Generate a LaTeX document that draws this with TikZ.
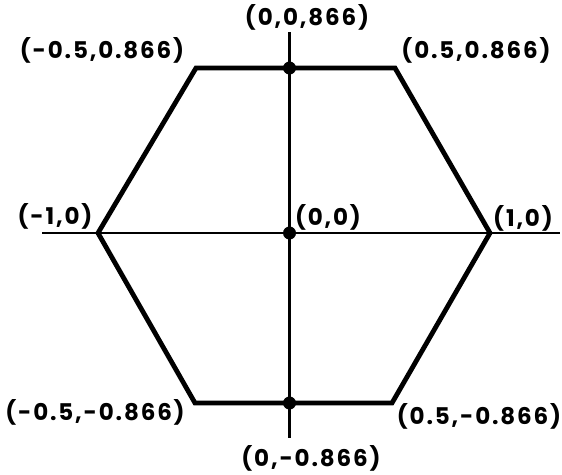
\documentclass[tikz,border=0pt]{standalone}
\usepackage{fontspec}
\setmainfont{Poppins}[LetterSpace=8]
\begin{document}
\begin{tikzpicture}[x=1pt,y=-1pt,
  hexline/.style={line width=4.8pt, line join=miter},
  axisline/.style={line width=2.2pt},
  lbl/.style={font=\fontsize{23}{26}\selectfont\bfseries, inner sep=0pt},
  dotn/.style={circle, fill=black, inner sep=0pt, minimum size=13pt}]
\useasboundingbox (0,0) rectangle (562,474);
% hexagon vertices
\coordinate (L) at (98,233);
\coordinate (R) at (490,233);
\coordinate (TL) at (196,68);
\coordinate (TR) at (395,68);
\coordinate (BL) at (195,403);
\coordinate (BR) at (392,403);
% axes ends
\coordinate (hs) at (42,233);
\coordinate (he) at (560,233);
\coordinate (vs) at (289.5,32);
\coordinate (ve) at (289.5,438);
\draw[axisline] (hs) -- (he);
\draw[axisline] (vs) -- (ve);
\draw[hexline] (L) -- (TL) -- (TR) -- (R) -- (BR) -- (BL) -- cycle;
% dots
\node[dotn] (dtop) at (289.5,68) {};
\node[dotn] (dmid) at (289.5,233) {};
\node[dotn] (dbot) at (289.5,403) {};
% labels
\node[lbl] (lTL) at (102,50) {(-0.5,0.866)};
\node[lbl] (lT) at (307,17) {(0,0,866)};
\node[lbl] (lTR) at (476,50) {(0.5,0.866)};
\node[lbl] (lL) at (55,216) {(-1,0)};
\node[lbl] (lC) at (328,217) {(0,0)};
\node[lbl] (lR) at (523,218) {(1,0)};
\node[lbl] (lBL) at (95,412) {(-0.5,-0.866)};
\node[lbl] (lBR) at (479,416) {(0.5,-0.866)};
\node[lbl] (lB) at (311,458) {(0,-0.866)};
\end{tikzpicture}
\end{document}
